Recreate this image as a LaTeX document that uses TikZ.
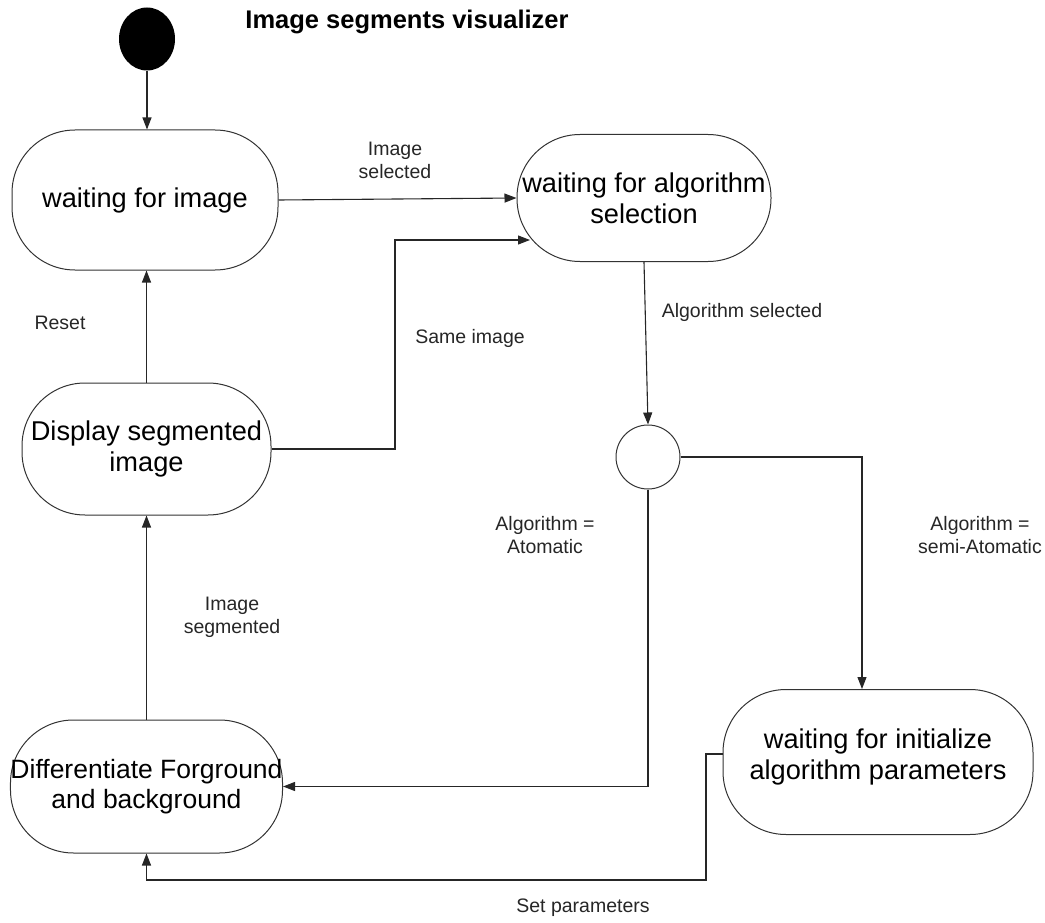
\documentclass[tikz,border=0pt]{standalone}
\usepackage{fontspec}
\setmainfont{Liberation Sans}
\usetikzlibrary{arrows.meta,shapes.geometric}
\tikzset{
  state/.style={draw=black!80, line width=1pt, rectangle, rounded corners=63pt,
    align=center, inner sep=0pt, font=\fontsize{27.2}{31}\selectfont},
  choice/.style={draw=black!80, line width=1pt, circle, minimum size=64pt, inner sep=0pt},
  start/.style={fill=black, ellipse, minimum width=56pt, minimum height=63pt, inner sep=0pt},
  arr/.style={draw=black!85, line width=1.1pt, -{Triangle[length=12pt,width=9pt]}},
  lbl/.style={align=center, font=\fontsize{19.5}{23}\selectfont, text=black!85},
  heading/.style={font=\bfseries\fontsize{25.5}{30}\selectfont}
}
\begin{document}
\begin{tikzpicture}[x=1pt,y=-1pt]
\useasboundingbox (0,0) rectangle (1045,923);

% title
\node[heading] (title) at (407,22) {Image segments visualizer};

% states
\node[start] (init) at (147,39) {};
\node[state, minimum width=266pt, minimum height=140pt] (wimg) at (145,200) {waiting for image};
\node[state, minimum width=254pt, minimum height=127pt] (walg) at (644,198) {waiting for algorithm\\selection};
\node[state, minimum width=249pt, minimum height=132pt] (disp) at (146.5,449) {Display segmented\\image};
\node[choice] (dec) at (648,457) {};
\node[state, minimum width=269pt, minimum height=133pt, font=\fontsize{26.5}{30}\selectfont] (diff) at (146.5,786.5) {Differentiate Forground\\and background};
\node[state, minimum width=310pt, minimum height=145pt] (winit) at (878,762) {waiting for initialize\\algorithm parameters\\[-15pt]\mbox{}};

% bend points of the routed transitions
\coordinate (sameBend) at (395,240);
\coordinate (sameEnd) at (530,240);
\coordinate (setA) at (706,754);
\coordinate (setB) at (706,880);

% transitions
\draw[arr] (init.south) -- (init.south |- wimg.north);
\draw[arr] (wimg.east) -- (walg.west);
\draw[arr] (disp.north) -- (disp.north |- wimg.south);
\draw[arr] (disp.east) -| (sameBend) -- (sameEnd);
\draw[arr] (walg.south) -- (dec.north);
\draw[arr] (dec.east) -| ([xshift=-16pt]winit.north);
\draw[arr] (dec.south) |- (diff.east);
\draw[arr] (diff.north) -- (disp.south);
\draw[arr] (winit.west |- setA) -- (setA) -- (setB) -| (diff.south);

% transition labels
\node[lbl] (lSel) at (395,160) {Image\\selected};
\node[lbl] (lReset) at (60,323) {Reset};
\node[lbl] (lSame) at (470,338) {Same image};
\node[lbl] (lAlgSel) at (742,312) {Algorithm selected};
\node[lbl] (lAuto) at (545,535) {Algorithm =\\Atomatic};
\node[lbl] (lSemi) at (980,535) {Algorithm =\\semi-Atomatic};
\node[lbl] (lSeg) at (232,617) {Image\\segmented};
\node[lbl] (lSet) at (583,908) {Set parameters};
\end{tikzpicture}
\end{document}
